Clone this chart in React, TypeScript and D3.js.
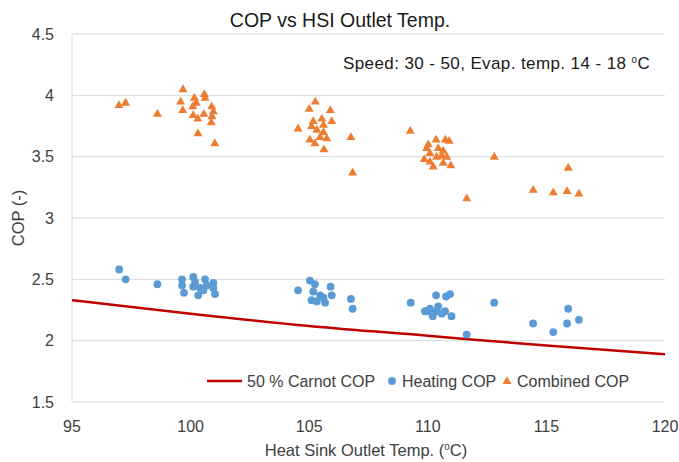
import React from "react";
import * as d3 from "d3";

const combinedX = [96.98, 97.26, 98.6, 99.68, 99.58, 99.67, 100.16, 100.24, 100.09, 100.58, 100.61, 100.11, 100.3, 100.56, 100.89, 100.96, 100.9, 100.87, 100.31, 101.02, 105.26, 105.0, 105.89, 104.53, 105.17, 105.53, 105.95, 105.1, 105.32, 105.6, 105.6, 105.03, 105.24, 105.46, 105.74, 105.62, 106.76, 106.83, 109.26, 110.35, 110.74, 110.9, 110.02, 109.95, 110.44, 110.65, 110.09, 110.59, 109.85, 110.09, 110.23, 110.65, 110.97, 110.8, 110.37, 112.8, 111.64, 114.44, 115.29, 115.87, 116.37, 115.92];
const combinedY = [3.92, 3.94, 3.85, 4.05, 3.95, 3.88, 3.98, 3.94, 3.91, 4.01, 3.98, 3.84, 3.81, 3.85, 3.91, 3.87, 3.83, 3.78, 3.69, 3.61, 3.95, 3.89, 3.88, 3.73, 3.79, 3.81, 3.79, 3.75, 3.72, 3.76, 3.70, 3.64, 3.61, 3.66, 3.65, 3.56, 3.66, 3.37, 3.71, 3.64, 3.64, 3.63, 3.60, 3.57, 3.57, 3.55, 3.53, 3.51, 3.48, 3.46, 3.42, 3.45, 3.43, 3.50, 3.50, 3.50, 3.16, 3.23, 3.21, 3.22, 3.20, 3.41];

const heatingX = [96.99, 97.26, 98.6, 99.64, 99.64, 99.72, 100.11, 100.19, 100.11, 100.32, 100.61, 100.68, 100.96, 100.96, 101.03, 100.54, 100.4, 104.53, 105.03, 105.24, 105.9, 105.95, 105.17, 105.46, 105.1, 105.32, 105.67, 105.6, 106.76, 106.83, 109.28, 110.35, 110.77, 110.94, 109.88, 110.09, 110.44, 110.73, 110.21, 111.0, 110.59, 110.37, 110.02, 112.8, 111.64, 114.44, 115.29, 115.87, 116.37, 115.92];
const heatingY = [2.58, 2.50, 2.46, 2.50, 2.45, 2.39, 2.52, 2.48, 2.44, 2.37, 2.50, 2.45, 2.47, 2.43, 2.38, 2.41, 2.43, 2.41, 2.49, 2.46, 2.44, 2.37, 2.40, 2.37, 2.33, 2.32, 2.31, 2.35, 2.34, 2.26, 2.31, 2.37, 2.36, 2.38, 2.24, 2.26, 2.28, 2.24, 2.20, 2.20, 2.22, 2.24, 2.24, 2.31, 2.05, 2.14, 2.07, 2.14, 2.17, 2.26];

const carnotX = [95, 100, 105, 110, 115, 120];
const carnotY = [2.33, 2.22, 2.12, 2.04, 1.96, 1.89];

const xTicks = [95, 100, 105, 110, 115, 120];
const yTicks = [1.5, 2, 2.5, 3, 3.5, 4, 4.5];

const W = 679;
const H = 462;
const left = 72, right = 665, top = 34, bottom = 402;
const FONT = "'Liberation Sans', Arial, sans-serif";
const BLUE = "#5B9BD5";
const ORANGE = "#ED7D31";
const RED = "#C00000";
const TXT = "#404040";

function tri(cx: number, cy: number, s: number) {
  const h = s * 0.866;
  return `M${cx},${cy - h * 0.62}L${cx + s / 2},${cy + h * 0.38}L${cx - s / 2},${cy + h * 0.38}Z`;
}

export default function App() {
  const x = d3.scaleLinear().domain([95, 120]).range([left, right]);
  const y = d3.scaleLinear().domain([1.5, 4.5]).range([bottom, top]);
  const line = d3
    .line<number>()
    .x((_, i) => x(carnotX[i]))
    .y((d) => y(d))
    .curve(d3.curveMonotoneX);

  return (
    <svg
      width={W}
      height={H}
      style={{ position: "absolute", left: 0, top: 0, background: "#fff" }}
      fontFamily={FONT}
    >
      <rect width={W} height={H} fill="#fff" />
      {yTicks.map((t) => (
        <g key={t}>
          <line x1={left} x2={right} y1={y(t)} y2={y(t)} stroke="#D9D9D9" strokeWidth={1} />
          <text x={54} y={y(t)} dy="0.35em" textAnchor="end" fontSize={16} fill={TXT}>
            {String(t)}
          </text>
        </g>
      ))}
      <line x1={left} x2={left} y1={top} y2={bottom} stroke="#D9D9D9" strokeWidth={1} />
      {xTicks.map((t) => (
        <text key={t} x={x(t)} y={426} dy="0.35em" textAnchor="middle" fontSize={16} fill={TXT}>
          {t}
        </text>
      ))}
      <text x={340} y={20} dy="0.35em" textAnchor="middle" fontSize={19.5} fill="#1a1a1a">
        COP vs HSI Outlet Temp.
      </text>
      <text x={366} y={450} dy="0.35em" textAnchor="middle" fontSize={16.5} fill={TXT}>
        Heat Sink Outlet Temp. (<tspan fontSize={10} dy="-6">o</tspan>
        <tspan dy="6">C)</tspan>
      </text>
      <text
        transform={`translate(18,${(top + bottom) / 2}) rotate(-90)`}
        dy="0.35em"
        textAnchor="middle"
        fontSize={16.5}
        fill={TXT}
      >
        COP (-)
      </text>
      <text x={343} y={63} dy="0.35em" fontSize={17} letterSpacing={0.4} fill="#1a1a1a">
        Speed: 30 - 50, Evap. temp. 14 - 18 <tspan fontSize={10} dy="-6">o</tspan>
        <tspan dy="6">C</tspan>
      </text>

      <path d={line(carnotY) || ""} fill="none" stroke={RED} strokeWidth={2.5} />

      {heatingX.map((v, i) => (
        <circle key={"h" + i} cx={x(v)} cy={y(heatingY[i])} r={3.9} fill={BLUE} />
      ))}
      {combinedX.map((v, i) => (
        <path key={"c" + i} d={tri(x(v), y(combinedY[i]), 9)} fill={ORANGE} />
      ))}

      <g>
        <line x1={207} x2={242} y1={381} y2={381} stroke={RED} strokeWidth={2.5} />
        <text x={247} y={381} dy="0.35em" fontSize={16} fill={TXT}>
          50 % Carnot COP
        </text>
        <circle cx={392} cy={381} r={3.9} fill={BLUE} />
        <text x={402} y={381} dy="0.35em" fontSize={16} fill={TXT}>
          Heating COP
        </text>
        <path d={tri(507, 381, 9)} fill={ORANGE} />
        <text x={517} y={381} dy="0.35em" fontSize={16} fill={TXT}>
          Combined COP
        </text>
      </g>
    </svg>
  );
}
